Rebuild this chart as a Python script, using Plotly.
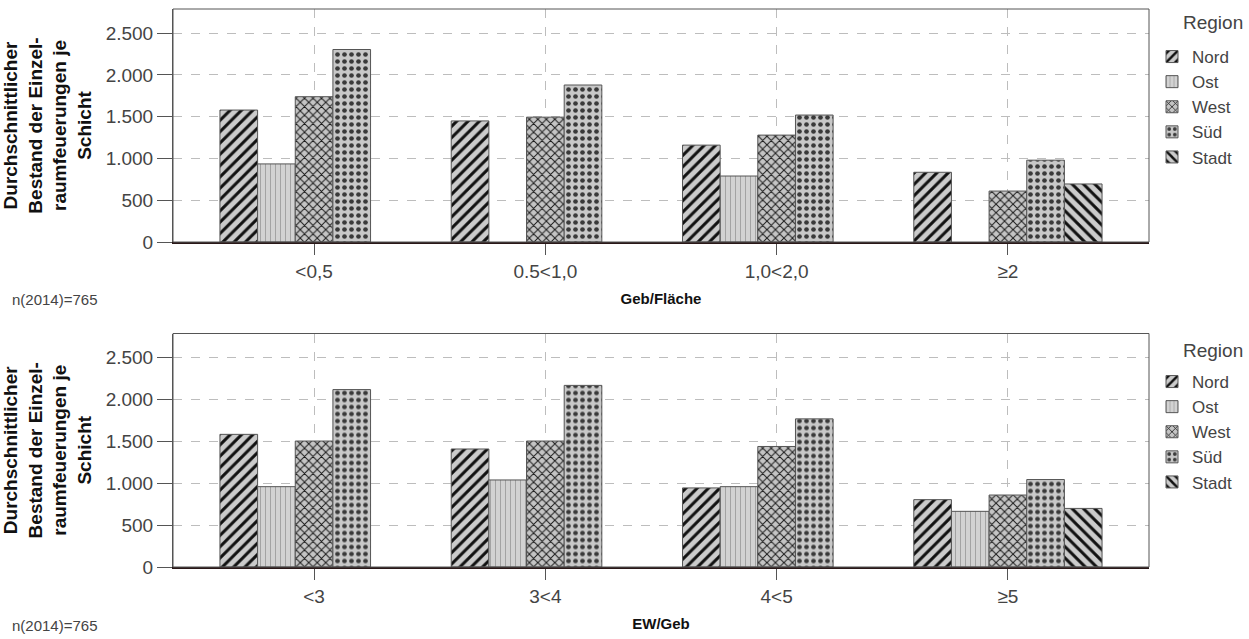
import plotly.graph_objects as go

# ---------------- data ----------------
regions = ["Nord", "Ost", "West", "Süd", "Stadt"]

cats_top = ["<0,5", "0.5<1,0", "1,0<2,0", "≥2"]
top_nord = [1580, 1450, 1160, 835]
top_ost = [935, None, 790, None]
top_west = [1740, 1495, 1280, 610]
top_sued = [2305, 1880, 1520, 980]
top_stadt = [None, None, None, 695]

cats_bot = ["<3", "3<4", "4<5", "≥5"]
bot_nord = [1585, 1410, 945, 805]
bot_ost = [960, 1040, 960, 665]
bot_west = [1505, 1505, 1440, 860]
bot_sued = [2120, 2170, 1770, 1045]
bot_stadt = [None, None, None, 700]

y_ticks = [0, 500, 1000, 1500, 2000, 2500]
y_title = "Durchschnittlicher<br>Bestand der Einzel-<br>raumfeuerungen je<br>Schicht"
x_title_top = "Geb/Fläche"
x_title_bot = "EW/Geb"
n_note = "n(2014)=765"
legend_title = "Region"

# ---------------- styles ----------------
patterns = {
    "Nord": dict(shape="/", bgcolor="#cbcbcb", fgcolor="#111111", size=8, solidity=0.38, fillmode="replace"),
    "Ost": dict(shape="|", bgcolor="#d2d2d2", fgcolor="#a3a3a3", size=5, solidity=0.2, fillmode="replace"),
    "West": dict(shape="x", bgcolor="#c4c4c4", fgcolor="#1a1a1a", size=6, solidity=0.3, fillmode="replace"),
    "Süd": dict(shape=".", bgcolor="#c8c8c8", fgcolor="#3a3a3a", size=7, solidity=0.35, fillmode="replace"),
    "Stadt": dict(shape="\\", bgcolor="#cbcbcb", fgcolor="#111111", size=8, solidity=0.38, fillmode="replace"),
}

FONT = "Liberation Sans"
TXT = "#444444"

fig = go.Figure()

top_vals = [top_nord, top_ost, top_west, top_sued, top_stadt]
bot_vals = [bot_nord, bot_ost, bot_west, bot_sued, bot_stadt]

for r, v in zip(regions, top_vals):
    fig.add_trace(go.Bar(
        x=cats_top, y=v, name=r, xaxis="x", yaxis="y", legend="legend",
        marker=dict(pattern=patterns[r], line=dict(color="#555555", width=1)),
    ))
for r, v in zip(regions, bot_vals):
    fig.add_trace(go.Bar(
        x=cats_bot, y=v, name=r, xaxis="x2", yaxis="y2", legend="legend2",
        marker=dict(pattern=patterns[r], line=dict(color="#555555", width=1)),
    ))

W, H = 1249, 639
ml, mr, mt, mb = 173, 100, 9, 72
ph = H - mt - mb

def py(pix):
    return (H - mb - pix) / ph

def px(pix):
    return (pix - ml) / (W - ml - mr)

xax = dict(
    type="category", range=[-0.61, 3.61],
    showline=True, linecolor="#2a1818", linewidth=2, mirror=False,
    ticks="outside", ticklen=11, tickcolor="#555555", tickwidth=1,
    showgrid=True, gridcolor="#bdbdbd", griddash="dash", gridwidth=1,
    tickfont=dict(family=FONT, size=19, color=TXT),
    zeroline=False,
)
yax = dict(
    range=[0, 2790], tickvals=y_ticks, tickformat=",d",
    showline=True, linecolor="#555555", linewidth=1, mirror=False,
    ticks="outside", ticklen=15, tickcolor="#555555", tickwidth=1,
    showgrid=True, gridcolor="#bdbdbd", griddash="dash", gridwidth=1,
    tickfont=dict(family=FONT, size=19, color=TXT),
    zeroline=False,
    title=dict(text=y_title, font=dict(family=FONT, size=19, color="#111111", weight="bold"), standoff=11),
)

leg = dict(
    x=px(1152), xanchor="left", yanchor="top",
    font=dict(family=FONT, size=17, color=TXT), bgcolor="rgba(0,0,0,0)",
    traceorder="normal", itemclick=False, itemdoubleclick=False,
)

fig.update_layout(
    width=W, height=H,
    margin=dict(l=ml, r=mr, t=mt, b=mb, autoexpand=False),
    paper_bgcolor="white", plot_bgcolor="white",
    separators=",.",
    barmode="group", bargap=0.186, bargroupgap=0,
    xaxis=dict(xax, anchor="y", domain=[0, 1],
               title=dict(text=x_title_top, font=dict(family=FONT, size=15, color="#111111", weight="bold"), standoff=13)),
    yaxis=dict(yax, anchor="x", domain=[py(242), 1]),
    xaxis2=dict(xax, anchor="y2", domain=[0, 1],
                title=dict(text=x_title_bot, font=dict(family=FONT, size=15, color="#111111", weight="bold"), standoff=13)),
    yaxis2=dict(yax, anchor="x2", domain=[0, py(333.5)]),
    legend=dict(leg, y=py(39)),
    legend2=dict(leg, y=py(364)),
    showlegend=True,
)

# plot frame (top and right border)
for xr, yr in (("x domain", "y domain"), ("x2 domain", "y2 domain")):
    fig.add_shape(type="rect", xref=xr, yref=yr, x0=0, x1=1, y0=0, y1=1,
                  line=dict(color="#555555", width=1), layer="above")

for ypix in (299, 625):
    fig.add_annotation(text=n_note, xref="paper", yref="paper", x=px(10), y=py(ypix),
                       xanchor="left", yanchor="middle", showarrow=False,
                       font=dict(family=FONT, size=15, color=TXT))

for ypix in (22, 350):
    fig.add_annotation(text=legend_title, xref="paper", yref="paper", x=px(1213), y=py(ypix),
                       xanchor="center", yanchor="middle", showarrow=False,
                       font=dict(family=FONT, size=19, color=TXT))

fig.write_html(
    "out.html",
    config={"displayModeBar": False},
    post_script="document.body.style.margin='0';document.body.style.padding='0';document.body.style.overflow='hidden';",
)
